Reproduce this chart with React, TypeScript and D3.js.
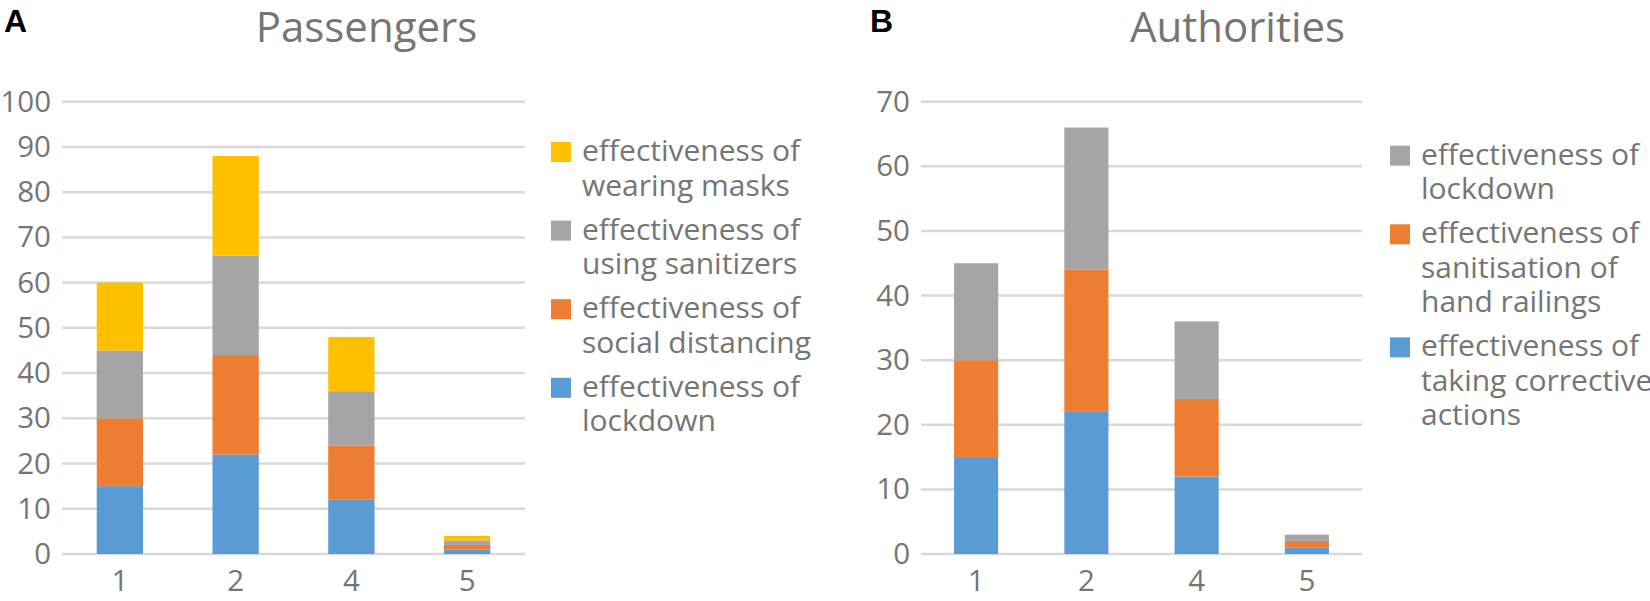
import { useRef, useEffect } from 'react';
import * as d3 from 'd3';

// Survey scores (x = rating)
const categories = ['1', '2', '4', '5'];

const passengerLockdown = [15, 22, 12, 1];
const passengerDistancing = [15, 22, 12, 1];
const passengerSanitizers = [15, 22, 12, 1];
const passengerMasks = [15, 22, 12, 1];

const authorityCorrective = [15, 22, 12, 1];
const authorityRailings = [15, 22, 12, 1];
const authorityLockdown = [15, 22, 12, 1];

const passengerTicks = [0, 10, 20, 30, 40, 50, 60, 70, 80, 90, 100];
const authorityTicks = [0, 10, 20, 30, 40, 50, 60, 70];

const BLUE = '#5B9BD5';
const ORANGE = '#ED7D31';
const GRAY = '#A5A5A5';
const YELLOW = '#FFC000';
const TEXT = '#757575';
const GRID = '#D9D9D9';
const FONT = '"Open Sans", "Noto Sans", sans-serif';

interface Series {
  key: string;
  values: number[];
  color: string;
  label: string[];
}

interface PanelProps {
  letter: string;
  letterX: number;
  title: string;
  titleX: number;
  series: Series[];
  ticks: number[];
  left: number;
  right: number;
  labelX: number;
  legendX: number;
  legendTop: number;
}

const TOP = 101.7;
const BOTTOM = 554;
const LINE_H = 34.5;
const ENTRY_GAP = 9.6;

function drawPanel(g: d3.Selection<SVGGElement, unknown, null, undefined>, p: PanelProps) {
  const x = d3
    .scaleBand<string>()
    .domain(categories)
    .range([p.left, p.right])
    .paddingInner(0.6)
    .paddingOuter(0.3);

  const y = d3
    .scaleLinear()
    .domain([0, p.ticks[p.ticks.length - 1]])
    .range([BOTTOM, TOP]);

  // panel letter
  g.append('text')
    .attr('x', p.letterX)
    .attr('y', 32)
    .attr('font-family', '"Liberation Sans", Arial, sans-serif')
    .attr('font-weight', 'bold')
    .attr('font-size', 32)
    .attr('fill', '#000')
    .text(p.letter);

  // title
  g.append('text')
    .attr('x', p.titleX)
    .attr('y', 41.5)
    .attr('text-anchor', 'middle')
    .attr('font-family', FONT)
    .attr('font-size', 42)
    .attr('fill', TEXT)
    .text(p.title);

  // gridlines + y labels
  g.selectAll('.grid')
    .data(p.ticks)
    .enter()
    .append('line')
    .attr('x1', p.left)
    .attr('x2', p.right)
    .attr('y1', (d) => y(d))
    .attr('y2', (d) => y(d))
    .attr('stroke', GRID)
    .attr('stroke-width', 2.5);

  g.selectAll('.ylab')
    .data(p.ticks)
    .enter()
    .append('text')
    .attr('x', p.labelX)
    .attr('y', (d) => y(d))
    .attr('dy', '0.34em')
    .attr('text-anchor', 'end')
    .attr('font-family', FONT)
    .attr('font-size', 29.5)
    .attr('fill', TEXT)
    .text((d) => String(d));

  // stacked bars
  const rows = categories.map((c, i) => {
    const r: Record<string, number | string> = { cat: c };
    p.series.forEach((s) => (r[s.key] = s.values[i]));
    return r;
  });
  const stack = d3.stack<Record<string, number | string>>().keys(p.series.map((s) => s.key));
  const layers = stack(rows as any);

  layers.forEach((layer, li) => {
    g.selectAll(`.bar-${li}`)
      .data(layer)
      .enter()
      .append('rect')
      .attr('x', (d) => x(String(d.data.cat))!)
      .attr('width', x.bandwidth())
      .attr('y', (d) => y(d[1]))
      .attr('height', (d) => y(d[0]) - y(d[1]))
      .attr('fill', p.series[li].color);
  });

  // x labels
  g.selectAll('.xlab')
    .data(categories)
    .enter()
    .append('text')
    .attr('x', (d) => x(d)! + x.bandwidth() / 2)
    .attr('y', 591)
    .attr('text-anchor', 'middle')
    .attr('font-family', FONT)
    .attr('font-size', 29.5)
    .attr('fill', TEXT)
    .text((d) => d);

  // legend, top series first
  let top = p.legendTop;
  [...p.series].reverse().forEach((s) => {
    g.append('rect')
      .attr('x', p.legendX)
      .attr('y', top)
      .attr('width', 20)
      .attr('height', 20)
      .attr('fill', s.color);
    s.label.forEach((line, i) => {
      g.append('text')
        .attr('x', p.legendX + 31)
        .attr('y', top + 19 + i * LINE_H)
        .attr('font-family', FONT)
        .attr('font-size', 30)
        .attr('fill', TEXT)
        .text(line);
    });
    top += s.label.length * LINE_H + ENTRY_GAP;
  });
}

export default function App() {
  const svgRef = useRef<SVGSVGElement>(null);

  useEffect(() => {
    if (!svgRef.current) return;
    const svg = d3.select(svgRef.current);
    svg.selectAll('*').remove();

    drawPanel(svg.append('g'), {
      letter: 'A',
      letterX: 4,
      title: 'Passengers',
      titleX: 366.5,
      ticks: passengerTicks,
      left: 62,
      right: 525,
      labelX: 51,
      legendX: 551,
      legendTop: 142,
      series: [
        { key: 'lockdown', values: passengerLockdown, color: BLUE, label: ['effectiveness of', 'lockdown'] },
        { key: 'distancing', values: passengerDistancing, color: ORANGE, label: ['effectiveness of', 'social distancing'] },
        { key: 'sanitizers', values: passengerSanitizers, color: GRAY, label: ['effectiveness of', 'using sanitizers'] },
        { key: 'masks', values: passengerMasks, color: YELLOW, label: ['effectiveness of', 'wearing masks'] },
      ],
    });

    drawPanel(svg.append('g'), {
      letter: 'B',
      letterX: 870,
      title: 'Authorities',
      titleX: 1237.5,
      ticks: authorityTicks,
      left: 921,
      right: 1362,
      labelX: 910,
      legendX: 1390,
      legendTop: 145.7,
      series: [
        { key: 'corrective', values: authorityCorrective, color: BLUE, label: ['effectiveness of', 'taking corrective', 'actions'] },
        { key: 'railings', values: authorityRailings, color: ORANGE, label: ['effectiveness of', 'sanitisation of', 'hand railings'] },
        { key: 'lockdown', values: authorityLockdown, color: GRAY, label: ['effectiveness of', 'lockdown'] },
      ],
    });
  }, []);

  return (
    <div style={{ position: 'absolute', left: 0, top: 0 }}>
      <svg ref={svgRef} width={1650} height={601} style={{ display: 'block', background: '#fff' }} />
    </div>
  );
}
